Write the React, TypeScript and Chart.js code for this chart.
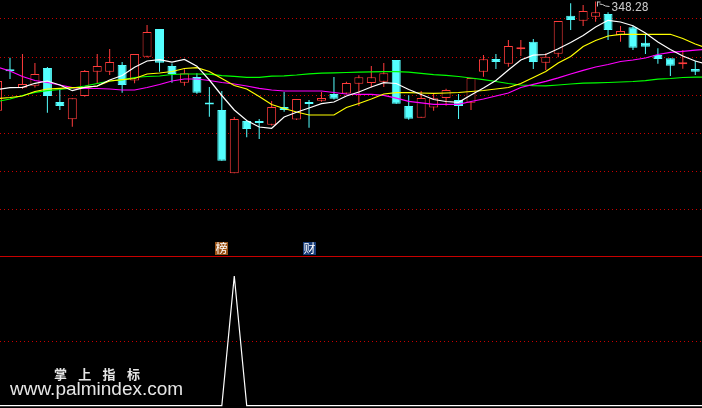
import { useEffect, useRef } from 'react';
import { Chart, registerables } from 'chart.js';

Chart.register(...registerables);

// ---- price candles (index = trading day) ----
const opens = [293.68, 313.68, 305.18, 306.18, 315.03, 298.03, 289.38, 301.03, 313.18, 313.18,
  316.53, 308.78, 320.68, 334.53, 316.03, 307.68, 310.53, 297.03, 294.03, 262.38,
  288.53, 288.53, 286.68, 295.53, 289.28, 298.03, 298.68, 302.03, 302.28, 307.18,
  307.53, 308.18, 319.03, 296.03, 290.18, 295.28, 300.03, 299.03, 297.68, 313.18,
  319.53, 317.18, 324.38, 328.18, 317.68, 322.18, 341.18, 338.68, 340.68, 342.03,
  331.38, 335.38, 327.68, 321.53, 319.88, 316.88, 314.53];
const closes = [308.53, 313.38, 307.03, 312.03, 301.03, 296.03, 299.88, 313.53, 316.03, 318.03,
  306.53, 322.03, 333.03, 317.68, 312.03, 312.38, 302.68, 296.73, 268.68, 289.53,
  284.53, 287.53, 295.53, 294.03, 299.53, 297.03, 300.03, 299.68, 307.53, 310.38,
  310.38, 312.38, 297.18, 289.68, 300.03, 299.88, 304.03, 296.03, 310.03, 319.38,
  318.03, 326.03, 324.68, 318.03, 320.68, 338.53, 339.03, 343.53, 342.88, 334.03,
  333.53, 325.18, 325.68, 319.53, 316.18, 317.68, 313.18];
const highs = [310.03, 320.18, 322.03, 317.53, 315.53, 304.28, 299.88, 314.03, 322.03, 324.53,
  318.03, 322.03, 336.53, 334.53, 317.28, 314.38, 312.38, 305.53, 303.53, 290.53,
  288.53, 289.53, 298.53, 303.03, 299.53, 299.03, 303.03, 310.53, 308.18, 311.38,
  316.03, 317.53, 319.03, 301.38, 303.53, 302.18, 304.68, 302.03, 310.03, 321.53,
  322.03, 329.03, 329.03, 329.53, 322.38, 338.53, 347.38, 346.53, 348.28, 342.88,
  336.03, 336.18, 331.53, 324.88, 319.88, 324.03, 318.68];
const lows = [292.53, 309.53, 304.53, 305.28, 292.68, 294.03, 285.68, 300.68, 307.38, 311.53,
  302.68, 307.38, 320.28, 313.18, 307.68, 306.18, 302.18, 290.68, 268.68, 262.38,
  280.38, 279.53, 286.28, 293.18, 289.03, 285.18, 298.18, 299.28, 302.03, 296.03,
  305.28, 305.53, 297.18, 289.18, 290.18, 293.68, 296.18, 289.53, 294.03, 310.68,
  314.53, 315.68, 321.03, 314.53, 314.03, 320.38, 334.03, 336.03, 338.18, 329.03,
  328.18, 324.03, 322.03, 317.18, 311.03, 314.68, 311.53];

// ---- moving averages ----
const maWhite = [304.28, 305.18, 305.38, 307.38, 308.53, 306.53, 303.68, 305.38, 306.03, 309.03,
  311.28, 315.38, 318.53, 319.18, 317.93, 319.28, 315.93, 309.03, 301.28, 294.03,
  288.78, 285.53, 284.88, 290.53, 292.88, 295.03, 297.18, 298.03, 301.03, 303.03,
  305.53, 307.68, 307.28, 304.28, 301.78, 299.28, 298.28, 297.88, 301.53, 305.03,
  308.78, 314.03, 319.03, 321.43, 321.78, 324.68, 327.78, 331.28, 335.53, 338.88,
  338.03, 336.18, 332.53, 328.03, 324.28, 321.03, 318.53, 316.78];
const maYellow = [299.78, 300.28, 301.03, 303.28, 304.53, 304.88, 305.18, 305.38, 306.03, 308.53,
  309.18, 309.78, 312.03, 312.53, 313.28, 314.78, 315.18, 313.28, 309.78, 306.28,
  304.53, 300.78, 296.78, 294.78, 293.03, 291.53, 291.53, 291.53, 295.28, 297.28,
  299.53, 302.03, 302.68, 302.68, 302.53, 302.38, 302.53, 302.78, 303.28, 303.78,
  304.53, 305.28, 307.28, 310.28, 313.28, 317.53, 320.78, 325.78, 328.78, 331.03,
  331.88, 331.88, 331.88, 331.88, 331.88, 329.78, 327.03, 324.78];
const maMagenta = [315.53, 313.53, 310.78, 308.78, 307.78, 306.53, 305.18, 304.88, 304.78, 304.53,
  304.03, 304.03, 305.28, 306.78, 308.53, 309.53, 309.53, 308.78, 307.78, 307.03,
  306.03, 304.88, 304.03, 303.53, 303.53, 303.53, 303.53, 302.78, 302.03, 301.88,
  301.88, 301.38, 299.93, 298.38, 297.63, 296.88, 296.88, 296.88, 298.28, 299.53,
  301.03, 302.53, 305.28, 306.88, 308.38, 310.13, 312.03, 313.88, 315.53, 316.78,
  318.28, 319.03, 320.03, 321.78, 322.88, 323.38, 323.93, 324.53];
const maGreen = [298.28, 299.53, 301.28, 302.88, 303.68, 304.28, 305.03, 306.03, 307.28, 308.53,
  309.13, 310.28, 310.78, 311.03, 311.78, 312.03, 312.03, 311.93, 311.18, 310.88,
  310.38, 310.38, 310.93, 311.13, 311.53, 312.13, 312.43, 312.63, 312.78, 312.93,
  313.13, 313.18, 313.18, 312.93, 312.38, 311.73, 311.38, 310.78, 310.03, 309.23,
  308.28, 307.28, 306.53, 306.18, 306.13, 306.53, 307.03, 307.43, 307.63, 307.78,
  308.03, 308.28, 308.68, 309.43, 309.78, 310.28, 310.43, 310.53];

// ---- lower indicator panel ----
const signalLine = [0, 0, 0, 0, 0, 0, 0, 0, 0, 0,
  0, 0, 0, 0, 0, 0, 0, 0, 0, 1,
  0, 0, 0, 0, 0, 0, 0, 0, 0, 0,
  0, 0, 0, 0, 0, 0, 0, 0, 0, 0,
  0, 0, 0, 0, 0, 0, 0, 0, 0, 0,
  0, 0, 0, 0, 0, 0, 0, 0];
const markerIndex = [18, 25];
const markerText = ['榜', '财'];
const markerColor = ['#9a5418', '#173c78'];

// ---- grid levels ----
const priceGridLevels = [339.88, 320.78, 301.68, 282.58, 263.48, 244.38];
const signalGridLevels = [0.5];
const separatorLevel = 1.152;

const UP = '#ff3c3c';
const DOWN = '#54ffff';

export default function App() {
  const ref = useRef<HTMLCanvasElement | null>(null);

  useEffect(() => {
    const canvas = ref.current;
    if (!canvas) return;
    const isUp = (i: number) => closes[i] >= opens[i];

    const gridPlugin = {
      id: 'tdxGrid',
      beforeDatasetsDraw(chart: any) {
        const { ctx, chartArea, scales } = chart;
        ctx.save();
        ctx.lineWidth = 1;
        ctx.strokeStyle = '#c80000';
        ctx.setLineDash([1, 3]);
        const drawH = (y: number) => {
          const yy = Math.round(y) + 0.5;
          ctx.beginPath();
          ctx.moveTo(chartArea.left, yy);
          ctx.lineTo(chartArea.right, yy);
          ctx.stroke();
        };
        priceGridLevels.forEach((v) => drawH(scales.y.getPixelForValue(v)));
        signalGridLevels.forEach((v) => drawH(scales.y2.getPixelForValue(v)));
        ctx.setLineDash([]);
        ctx.strokeStyle = '#c80000';
        drawH(scales.y2.getPixelForValue(separatorLevel));
        ctx.restore();
      },
      afterDatasetsDraw(chart: any) {
        const { ctx, scales } = chart;
        ctx.save();
        // highest-high flag label
        let hi = 0;
        highs.forEach((h, i) => { if (h > highs[hi]) hi = i; });
        const hx = Math.round(scales.x.getPixelForValue(hi)) + 1.5;
        const hy = scales.y.getPixelForValue(highs[hi]);
        ctx.strokeStyle = '#c8c8c8';
        ctx.lineWidth = 1;
        ctx.beginPath();
        ctx.moveTo(hx, hy);
        ctx.lineTo(hx, hy + 5);
        ctx.moveTo(hx, hy + 0.5);
        ctx.lineTo(hx + 3, hy + 0.5);
        ctx.moveTo(hx + 2, hy + 2.5);
        ctx.lineTo(hx + 5, hy + 3);
        ctx.lineTo(hx + 8, hy + 4.5);
        ctx.lineTo(hx + 12, hy + 5);
        ctx.stroke();
        ctx.fillStyle = '#c8c8c8';
        ctx.font = '12px Roboto';
        ctx.textBaseline = 'alphabetic';
        ctx.textAlign = 'left';
        ctx.fillText(highs[hi].toFixed(2), hx + 14, hy + 9.5);

        // signal markers above separator
        const sepY = Math.round(scales.y2.getPixelForValue(separatorLevel));
        markerIndex.forEach((idx, k) => {
          const cx = scales.x.getPixelForValue(idx);
          const left = Math.round(cx - 6.5);
          ctx.fillStyle = markerColor[k];
          ctx.fillRect(left, sepY - 14, 13, 13);
          ctx.fillStyle = '#ffffff';
          ctx.font = '12px "Noto Sans CJK SC"';
          ctx.textAlign = 'center';
          ctx.textBaseline = 'middle';
          ctx.fillText(markerText[k], left + 6.5, sepY - 7.5);
        });

        // watermark
        ctx.fillStyle = '#e6e6e6';
        ctx.font = 'bold 13px "Noto Sans CJK SC"';
        ctx.textAlign = 'left';
        ctx.textBaseline = 'middle';
        const wm = '掌上指标';
        for (let k = 0; k < wm.length; k++) {
          ctx.fillText(wm[k], 54 + k * 24.3, 374.5);
        }
        ctx.font = '19px "Liberation Sans"';
        ctx.textBaseline = 'alphabetic';
        ctx.fillText('www.palmindex.com', 10, 394.5);
        ctx.restore();
      },
    };

    const idx = (arr: number[]) => arr.map((v, i) => ({ x: i, y: v }));
    const lineDs = (label: string, arr: number[], color: string, axis: string) => ({
      type: 'line', label, data: idx(arr), yAxisID: axis,
      borderColor: color, borderWidth: 1.2, pointRadius: 0, tension: 0, order: 0,
    });

    const chart = new Chart(canvas, {
      type: 'bar',
      data: {
        datasets: [
          lineDs('white', maWhite, '#ffffff', 'y'),
          lineDs('yellow', maYellow, '#ffff00', 'y'),
          lineDs('magenta', maMagenta, '#ff00ff', 'y'),
          lineDs('green', maGreen, '#00ff00', 'y'),
          lineDs('signal', signalLine, '#ffffff', 'y2'),
          {
            type: 'bar', label: 'body', yAxisID: 'y',
            data: opens.map((o, i) => ({ x: i, y: [o, closes[i]] })) as any,
            backgroundColor: opens.map((_, i) => (isUp(i) ? '#000000' : DOWN)),
            borderColor: opens.map((_, i) => (isUp(i) ? UP : DOWN)),
            borderWidth: 1, borderSkipped: false, barThickness: 9, minBarLength: 2,
            grouped: false, inflateAmount: 0, order: 1,
          },
          {
            type: 'bar', label: 'wick', yAxisID: 'y',
            data: lows.map((l, i) => ({ x: i, y: [l, highs[i]] })) as any,
            backgroundColor: opens.map((_, i) => (isUp(i) ? UP : DOWN)),
            borderWidth: 0, barThickness: 1, grouped: false, inflateAmount: 0, order: 2,
          },
        ] as any,
      },
      options: {
        responsive: false,
        maintainAspectRatio: false,
        animation: false,
        devicePixelRatio: 1,
        events: [],
        layout: { padding: 0 },
        plugins: { legend: { display: false }, tooltip: { enabled: false } },
        scales: {
          x: { type: 'linear', min: 0.197, max: 56.54, display: false, offset: false },
          y: { type: 'linear', min: 145.03, max: 349.03, display: false },
          y2: { type: 'linear', min: -0.0177, max: 3.128, display: false },
        },
      } as any,
      plugins: [gridPlugin],
    });
    return () => chart.destroy();
  }, []);

  return (
    <div style={{ position: 'fixed', left: 0, top: 0, width: 702, height: 408, background: '#000' }}>
      <canvas ref={ref} width={702} height={408} style={{ display: 'block', width: 702, height: 408 }} />
    </div>
  );
}
